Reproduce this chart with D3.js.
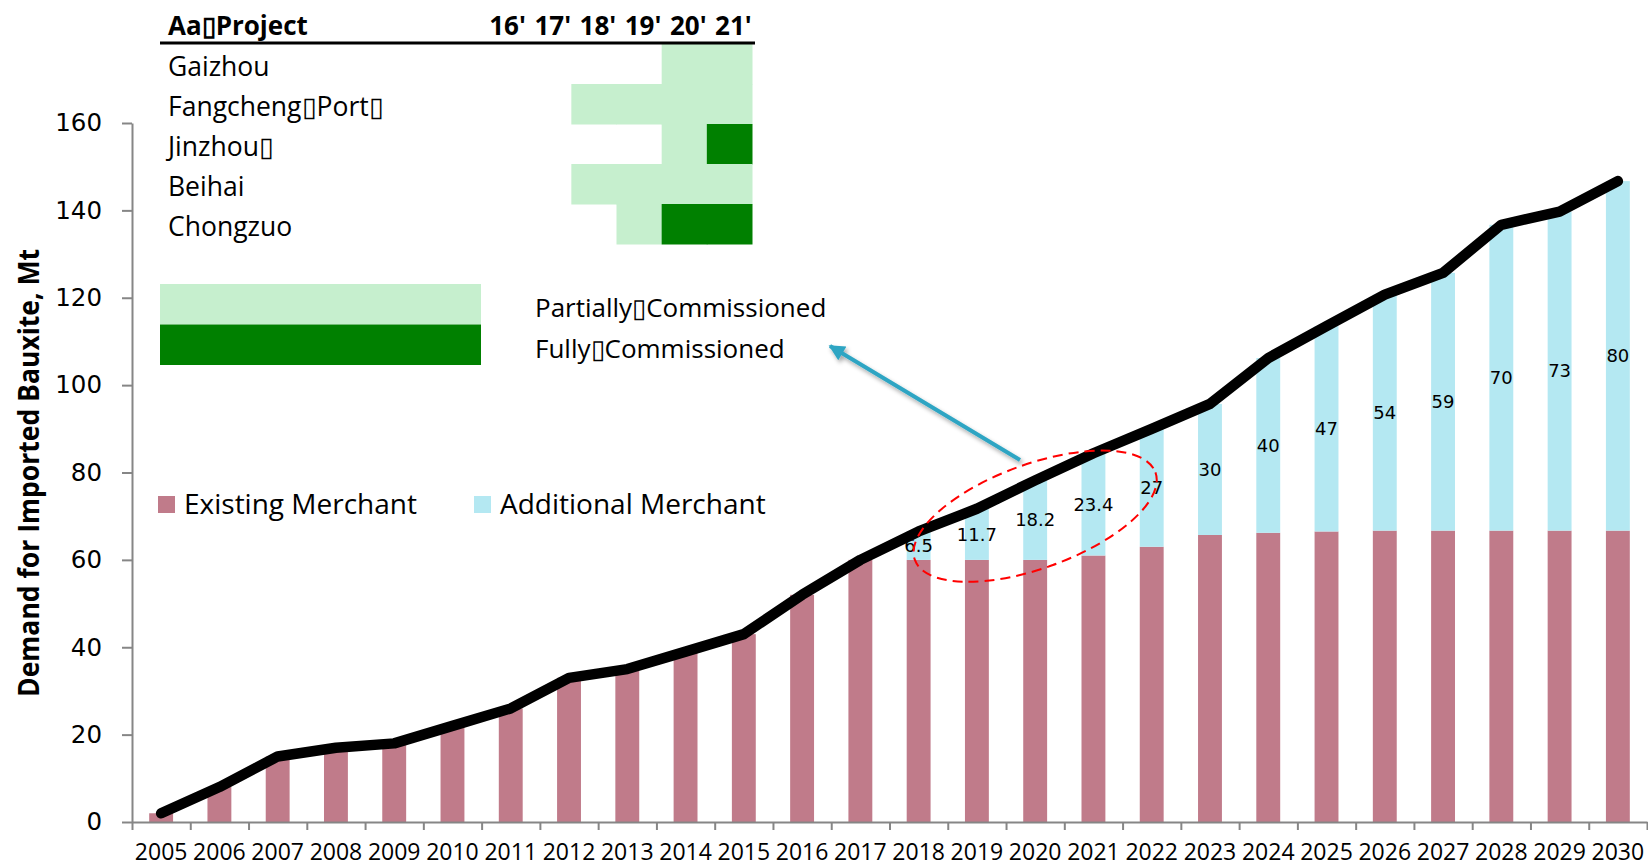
<!DOCTYPE html>
<html lang="en">
<head>
<meta charset="utf-8">
<title>Demand for Imported Bauxite</title>
<script src="https://cdn.jsdelivr.net/npm/d3@7"></script>
<style>
  body { margin: 0; background: #fff; }
  svg { display: block; }
  text { font-family: "Open Sans", sans-serif; fill: #000; }
</style>
</head>
<body>
<script>

// chart data
var years = ["2005", "2006", "2007", "2008", "2009", "2010", "2011", "2012", "2013",
             "2014", "2015", "2016", "2017", "2018", "2019", "2020", "2021", "2022",
             "2023", "2024", "2025", "2026", "2027", "2028", "2029", "2030"];
var existing = [2, 8, 15, 17, 18, 22, 26, 33, 35, 39, 43, 52, 60,
                60, 60, 60, 61, 63, 65.7, 66.2, 66.5, 66.7, 66.7, 66.7, 66.7, 66.7];
var additional = [0, 0, 0, 0, 0, 0, 0, 0, 0, 0, 0, 0, 0,
                  6.5, 11.7, 18.2, 23.4, 27, 30, 40, 47, 54, 59, 70, 73, 80];
var yTicks = [0, 20, 40, 60, 80, 100, 120, 140, 160];
var seriesNames = ["Existing Merchant", "Additional Merchant"];

// project table data (0 = none, 1 = partial, 2 = full)
var projects = ["Gaizhou", "Fangcheng\u25AFPort\u25AF", "Jinzhou\u25AF", "Beihai", "Chongzuo"];
var projYears = ["16'", "17'", "18'", "19'", "20'", "21'"];
var projStatus = [
  [0, 0, 0, 0, 1, 1],
  [0, 0, 1, 1, 1, 1],
  [0, 0, 0, 0, 1, 2],
  [0, 0, 1, 1, 1, 1],
  [0, 0, 0, 1, 2, 2]
];
var statusNames = ["Partially\u25AFCommissioned", "Fully\u25AFCommissioned"];

var w = 1648;
var h = 867;
var barColors = ["#C07B8A", "#B4E8F2"];
var greens = ["#C6EFCE", "#008000"];
var axisColor = "#868686";

var svg = d3.select("body")
    .append("svg")
    .attr("width", w)
    .attr("height", h);

var defs = svg.append("defs");
defs.append("marker")
    .attr("id", "head")
    .attr("viewBox", "0 0 10 10")
    .attr("refX", 9)
    .attr("refY", 5)
    .attr("markerWidth", 4.5)
    .attr("markerHeight", 4)
    .attr("orient", "auto")
  .append("path")
    .attr("d", "M0,0L10,5L0,10z")
    .attr("fill", "#2EA5C3");
defs.append("filter")
    .attr("id", "shadow")
    .attr("x", "-20%").attr("y", "-20%").attr("width", "140%").attr("height", "140%")
  .append("feDropShadow")
    .attr("dx", 2).attr("dy", 3).attr("stdDeviation", 2)
    .attr("flood-color", "#000").attr("flood-opacity", 0.35);

// scales
var x = d3.scaleBand()
    .domain(years)
    .range([132, 1647])
    .paddingInner(0.59)
    .paddingOuter(0.295);
var xEdge = d3.scaleLinear()
    .domain([0, years.length])
    .range([132, 1647]);
var y = d3.scaleLinear()
    .domain([0, 160])
    .range([822, 123]);
var bw = x.bandwidth();

var rows = years.map(function(yr, i) {
  return {year: yr, existing: existing[i], additional: additional[i]};
});
var stacked = d3.stack().keys(["existing", "additional"])(rows);

// bars
svg.append("g").selectAll("g")
    .data(stacked)
    .enter().append("g")
    .attr("fill", function(d, i) { return barColors[i]; })
  .selectAll("rect")
    .data(function(d) { return d; })
    .enter().append("rect")
    .attr("x", function(d) { return x(d.data.year); })
    .attr("y", function(d) { return y(d[1]); })
    .attr("width", bw)
    .attr("height", function(d) { return y(d[0]) - y(d[1]); });

// y axis
var yAxis = svg.append("g")
    .attr("transform", "translate(132,0)")
    .call(d3.axisLeft(y).tickValues(yTicks).tickSize(10).tickSizeOuter(0).tickPadding(20));
yAxis.select(".domain").attr("stroke", axisColor).attr("stroke-width", 2);
yAxis.selectAll(".tick line").attr("stroke", axisColor).attr("stroke-width", 2);
yAxis.selectAll(".tick text")
    .style("font-family", "'DejaVu Sans', sans-serif")
    .style("font-size", "24.5px")
    .attr("fill", "#000");

// x axis: line with ticks at category edges
var xAxis = svg.append("g")
    .attr("transform", "translate(0,822)")
    .call(d3.axisBottom(xEdge).tickValues(d3.range(0, years.length + 1))
      .tickSize(8).tickSizeOuter(0).tickFormat(""));
xAxis.select(".domain").attr("stroke", axisColor).attr("stroke-width", 2);
xAxis.selectAll(".tick line").attr("stroke", axisColor).attr("stroke-width", 2);

svg.append("g").selectAll("text")
    .data(years)
    .enter().append("text")
    .attr("x", function(d) { return x(d) + bw / 2; })
    .attr("y", 860)
    .attr("text-anchor", "middle")
    .style("font-size", "23px")
    .text(function(d) { return d; });

// y title
svg.append("text")
    .attr("transform", "translate(39,473) rotate(-90)")
    .attr("text-anchor", "middle")
    .attr("textLength", 448)
    .attr("lengthAdjust", "spacingAndGlyphs")
    .style("font-size", "29px")
    .style("font-weight", "bold")
    .text("Demand for Imported Bauxite, Mt");

// total line
var line = d3.line()
    .x(function(d) { return x(d.data.year) + bw / 2; })
    .y(function(d) { return y(d[1]); });
svg.append("path")
    .datum(stacked[1])
    .attr("d", line)
    .attr("fill", "none")
    .attr("stroke", "#000")
    .attr("stroke-width", 10.5)
    .attr("stroke-linejoin", "round")
    .attr("stroke-linecap", "round");

// labels on additional segment
svg.append("g").selectAll("text")
    .data(stacked[1].filter(function(d) { return d.data.additional > 0; }))
    .enter().append("text")
    .attr("x", function(d) { return x(d.data.year) + bw / 2; })
    .attr("y", function(d) { return y((d[0] + d[1]) / 2); })
    .attr("dy", "0.35em")
    .attr("text-anchor", "middle")
    .style("font-family", "'DejaVu Sans', sans-serif")
    .style("font-size", "18px")
    .text(function(d) { return d.data.additional; });

// legend for bars
var leg = svg.append("g").selectAll("g")
    .data(seriesNames)
    .enter().append("g")
    .attr("transform", function(d, i) { return "translate(" + [158, 474][i] + ",496)"; });
leg.append("rect")
    .attr("width", 17).attr("height", 17)
    .attr("fill", function(d, i) { return barColors[i]; });
leg.append("text")
    .attr("x", 26).attr("y", 18)
    .style("font-size", "28px")
    .text(function(d) { return d; });

// dashed ellipse + arrow
svg.append("ellipse")
    .attr("transform", "translate(" + (x("2020") + bw / 2) + "," + y(70) + ") rotate(-20)")
    .attr("rx", 128).attr("ry", 52)
    .attr("fill", "none")
    .attr("stroke", "#FF0000")
    .attr("stroke-width", 2)
    .attr("stroke-dasharray", "10,6");

svg.append("line")
    .attr("x1", 1020).attr("y1", 460)
    .attr("x2", 830).attr("y2", 346)
    .attr("stroke", "#2EA5C3")
    .attr("stroke-width", 4)
    .attr("marker-end", "url(#head)")
    .attr("filter", "url(#shadow)");

// project table
var col = d3.scaleBand().domain(projYears).range([481, 752]);
var row = d3.scaleBand().domain(projects).range([44, 244]);

var cells = [];
projects.forEach(function(p, i) {
  projYears.forEach(function(c, j) {
    if (projStatus[i][j] > 0) cells.push({p: p, c: c, s: projStatus[i][j]});
  });
});
svg.append("g").selectAll("rect")
    .data(cells)
    .enter().append("rect")
    .attr("x", function(d) { return col(d.c); })
    .attr("y", function(d) { return row(d.p); })
    .attr("width", col.bandwidth() + 0.5)
    .attr("height", row.bandwidth() + 0.5)
    .attr("fill", function(d) { return greens[d.s - 1]; });

svg.append("text")
    .attr("x", 168).attr("y", 35)
    .style("font-size", "26px")
    .style("font-weight", "bold")
    .text("Aa\u25AFProject");
svg.append("g").selectAll("text")
    .data(projYears)
    .enter().append("text")
    .attr("x", function(d) { return col(d) + col.bandwidth() / 2 + 4; })
    .attr("y", 35)
    .attr("text-anchor", "middle")
    .style("font-size", "26px")
    .style("font-weight", "bold")
    .text(function(d) { return d; });
svg.append("line")
    .attr("x1", 160).attr("x2", 755)
    .attr("y1", 43).attr("y2", 43)
    .attr("stroke", "#000")
    .attr("stroke-width", 3);
svg.append("g").selectAll("text")
    .data(projects)
    .enter().append("text")
    .attr("x", 168)
    .attr("y", function(d) { return row(d) + 32; })
    .style("font-size", "26.5px")
    .text(function(d) { return d; });

// status legend
var sLeg = svg.append("g").selectAll("g")
    .data(statusNames)
    .enter().append("g")
    .attr("transform", function(d, i) { return "translate(160," + (284 + i * 40.5) + ")"; });
sLeg.append("rect")
    .attr("width", 321).attr("height", 40.5)
    .attr("fill", function(d, i) { return greens[i]; });
sLeg.append("text")
    .attr("x", 375).attr("y", 33)
    .style("font-size", "26px")
    .text(function(d) { return d; });

</script>
</body>
</html>
